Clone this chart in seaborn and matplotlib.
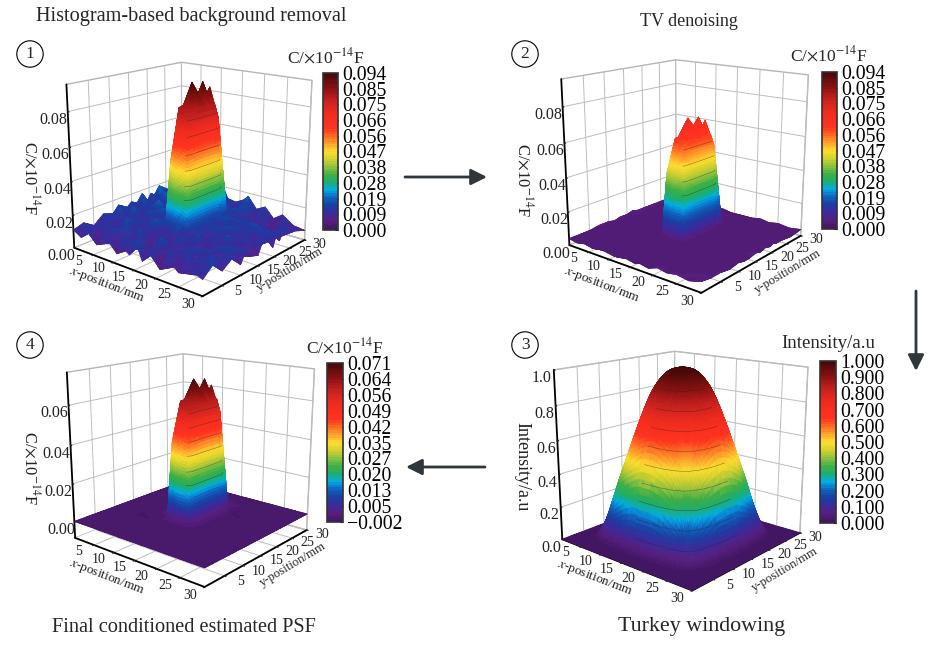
import numpy as np
import matplotlib
matplotlib.use('Agg')
import matplotlib.pyplot as plt
import matplotlib.tri as mtri
import seaborn as sns
from matplotlib.cm import ScalarMappable
from matplotlib.colors import ListedColormap, Normalize
from matplotlib.patches import FancyArrowPatch

sns.set_theme(style='white')
plt.rcParams['font.family'] = ['Liberation Serif', 'DejaVu Serif']
plt.rcParams['mathtext.fontset'] = 'stix'

W, H = 946, 648

# scan grids, mm. The peak panels are sampled closer around the steep walls
x_peak = [0, 2, 4, 6, 8.5, 11, 12, 14, 16, 17, 19, 21, 23, 25, 27.5, 30]
y_peak = [0, 2.5, 5, 7.5, 10, 11.5, 13, 15, 16.5, 18, 19.5, 20.5, 21.5, 23, 26.5, 30]
x_even = [0, 2, 4, 6, 8, 10, 12, 14, 16, 18, 20, 22, 24, 26, 28, 30]
y_even = [0, 2, 4, 6, 8, 10, 12, 14, 16, 18, 20, 22, 24, 26, 28, 30]
axis_ticks = [5, 10, 15, 20, 25, 30]

# colours of the bar, bottom to top
band_colors = ['#431663', '#57207f', '#3d2a9c', '#1a3fa2', '#1062bf', '#00aee6',
               '#1fae6e', '#3fb044', '#8fc23f', '#d8d22f', '#ffe030', '#ffa52e',
               '#ff6a22', '#ff3320', '#fb2f1f', '#ee2c1e', '#d82620', '#bb1e1c',
               '#8f1414', '#6e0e0e', '#4a0808']

# rows are x, columns are y
z_hist = [
    [.011, .013, .009, .014, .012, .016, .011, .015, .013, .018, .012, .016, .014, .019, .013, .017],
    [.008, .012, .007, .011, .016, .010, .014, .009, .017, .012, .015, .011, .018, .012, .016, .013],
    [.012, .006, .014, .009, .012, .018, .008, .013, .011, .016, .010, .019, .013, .015, .011, .017],
    [.007, .013, .010, .016, .006, .011, .015, .010, .019, .012, .021, .011, .016, .010, .018, .012],
    [.013, .008, .015, .007, .013, .009, .012, .017, .011, .015, .012, .018, .010, .017, .012, .015],
    [.006, .014, .009, .012, .017, .008, .014, .014, .020, .016, .018, .014, .016, .011, .014, .019],
    [.012, .007, .016, .008, .011, .015, .050, .070, .080, .080, .080, .080, .070, .017, .010, .013],
    [.008, .015, .006, .013, .009, .018, .0815, .083, .094, .083, .093, .085, .089, .011, .016, .012],
    [.014, .009, .012, .005, .017, .016, .079, .080, .080, .080, .080, .080, .072, .013, .009, .015],
    [.007, .012, .016, .010, .007, .015, .016, .016, .016, .016, .016, .016, .015, .015, .012, .018],
    [.012, .005, .009, .015, .012, .006, .013, .010, .015, .008, .016, .009, .014, .008, .016, .011],
    [.006, .014, .011, .006, .016, .010, .005, .015, .007, .014, .006, .015, .011, .013, .009, .014],
    [.013, .007, .015, .010, .005, .014, .011, .006, .016, .009, .013, .005, .015, .007, .014, .008],
    [.008, .012, .005, .013, .009, .007, .016, .012, .005, .014, .008, .016, .006, .013, .006, .012],
    [.012, .006, .014, .007, .015, .011, .005, .014, .010, .006, .015, .007, .012, .005, .013, .007],
    [.009, .014, .008, .012, .006, .013, .009, .006, .014, .011, .006, .013, .008, .014, .009, .006],
]
z_tv = [
    [.004, .004, .004, .005, .005, .004, .005, .005, .006, .005, .005, .005, .005, .005, .005, .005],
    [.003, .003, .004, .003, .003, .004, .004, .003, .004, .004, .004, .004, .004, .003, .004, .004],
    [.004, .003, .003, .003, .004, .003, .003, .004, .003, .003, .003, .004, .003, .004, .003, .003],
    [.003, .004, .003, .003, .003, .003, .004, .003, .004, .003, .004, .003, .003, .003, .003, .004],
    [.004, .003, .003, .004, .003, .003, .003, .003, .003, .004, .003, .004, .003, .003, .004, .003],
    [.003, .003, .004, .003, .003, .004, .004, .005, .005, .005, .005, .005, .003, .004, .003, .003],
    [.003, .004, .003, .003, .003, .004, .040, .054, .060, .060, .060, .060, .054, .004, .003, .004],
    [.004, .003, .003, .004, .003, .005, .0615, .062, .071, .062, .070, .063, .067, .005, .004, .003],
    [.003, .003, .004, .003, .003, .005, .059, .060, .060, .060, .060, .060, .054, .005, .003, .003],
    [.004, .004, .003, .003, .004, .004, .005, .005, .005, .005, .005, .005, .004, .003, .004, .003],
    [.003, .003, .003, .004, .003, .003, .003, .003, .004, .003, .003, .003, .003, .004, .003, .003],
    [.005, .003, .004, .003, .003, .003, .004, .003, .003, .003, .004, .003, .004, .003, .003, .004],
    [.004, .004, .003, .003, .004, .003, .003, .003, .004, .003, .003, .003, .003, .003, .004, .003],
    [.005, .003, .004, .003, .003, .004, .003, .004, .003, .003, .004, .003, .003, .004, .003, .004],
    [.004, .005, .003, .004, .003, .003, .004, .003, .003, .004, .003, .003, .004, .003, .003, .003],
    [.006, .005, .005, .004, .005, .004, .004, .005, .004, .005, .004, .005, .004, .004, .003, .004],
]
z_tukey = [
    [0, 0, 0, 0, 0, 0, 0, 0, 0, 0, 0, 0, 0, 0, 0, 0],
    [0, 0, 0, 0, .01, .01, .01, .01, .01, .01, .01, .01, 0, 0, 0, 0],
    [0, 0, .01, .05, .08, .10, .12, .12, .12, .12, .10, .08, .05, .01, 0, 0],
    [0, 0, .05, .18, .29, .36, .40, .42, .42, .40, .36, .29, .18, .05, 0, 0],
    [0, .01, .08, .29, .46, .58, .65, .68, .68, .65, .58, .46, .29, .08, .01, 0],
    [0, .01, .10, .36, .58, .72, .82, .85, .85, .82, .72, .58, .36, .10, .01, 0],
    [0, .01, .12, .40, .65, .82, .92, .96, .96, .92, .82, .65, .40, .12, .01, 0],
    [0, .01, .12, .42, .68, .85, .96, 1, 1, .96, .85, .68, .42, .12, .01, 0],
    [0, .01, .12, .42, .68, .85, .96, 1, 1, .96, .85, .68, .42, .12, .01, 0],
    [0, .01, .12, .40, .65, .82, .92, .96, .96, .92, .82, .65, .40, .12, .01, 0],
    [0, .01, .10, .36, .58, .72, .82, .85, .85, .82, .72, .58, .36, .10, .01, 0],
    [0, .01, .08, .29, .46, .58, .65, .68, .68, .65, .58, .46, .29, .08, .01, 0],
    [0, 0, .05, .18, .29, .36, .40, .42, .42, .40, .36, .29, .18, .05, 0, 0],
    [0, 0, .01, .05, .08, .10, .12, .12, .12, .12, .10, .08, .05, .01, 0, 0],
    [0, 0, 0, 0, .01, .01, .01, .01, .01, .01, .01, .01, 0, 0, 0, 0],
    [0, 0, 0, 0, 0, 0, 0, 0, 0, 0, 0, 0, 0, 0, 0, 0],
]
z_final = [
    [0, 0, 0, 0, 0, 0, 0, 0, 0, 0, 0, 0, 0, 0, 0, 0],
    [0, 0, 0, 0, 0, 0, 0, 0, 0, 0, 0, 0, 0, 0, 0, 0],
    [0, 0, 0, 0, 0, 0, 0, 0, 0, 0, 0, 0, 0, 0, 0, 0],
    [0, 0, 0, 0, -.001, -.001, 0, 0, 0, 0, 0, 0, 0, 0, 0, 0],
    [0, 0, 0, 0, -.001, 0, 0, 0, 0, 0, 0, 0, 0, 0, 0, 0],
    [0, 0, 0, 0, 0, 0, .001, .002, .002, .002, .002, .002, .001, 0, 0, 0],
    [0, 0, 0, 0, 0, .001, .040, .055, .060, .060, .060, .060, .054, .001, 0, 0],
    [0, 0, 0, 0, 0, .003, .0615, .062, .071, .062, .070, .063, .066, .003, 0, 0],
    [0, 0, 0, 0, 0, .003, .059, .060, .060, .060, .060, .060, .053, .003, 0, 0],
    [0, 0, 0, 0, 0, .001, .004, .004, .004, .004, .004, .004, .003, .001, 0, 0],
    [0, 0, 0, 0, 0, 0, 0, 0, 0, 0, 0, 0, -.001, -.001, 0, 0],
    [0, 0, 0, 0, 0, 0, 0, 0, 0, 0, 0, -.001, -.001, 0, 0, 0],
    [0, 0, 0, 0, 0, 0, 0, 0, 0, 0, 0, 0, 0, 0, 0, 0],
    [0, 0, 0, 0, 0, 0, 0, -.001, 0, 0, 0, 0, 0, 0, 0, 0],
    [0, 0, 0, 0, 0, 0, 0, 0, 0, 0, 0, 0, 0, 0, 0, 0],
    [0, 0, 0, 0, 0, 0, 0, 0, 0, 0, 0, 0, 0, 0, 0, 0],
]

ticks_cap = ['0.000', '0.009', '0.019', '0.028', '0.038', '0.047', '0.056', '0.066', '0.075', '0.085', '0.094']
ticks_int = ['0.000', '0.100', '0.200', '0.300', '0.400', '0.500', '0.600', '0.700', '0.800', '0.900', '1.000']
ticks_fin = ['\u22120.002', '0.005', '0.013', '0.020', '0.027', '0.035', '0.042', '0.049', '0.056', '0.064', '0.071']

levels_cap = [.03, .038, .047, .056, .066, .075]
levels_fin = [.02, .027, .035, .042, .049, .056]
levels_int = [.1, .2, .3, .4, .5, .6, .7, .8, .9]

CAP = r'C/$\times$10$^{-14}$F'

# the bar of the reference is stepped, so the surface gets the same bands
cmap = ListedColormap(sns.blend_palette(band_colors, n_colors=64))
fig = plt.figure(figsize=(W / 100, H / 100), dpi=100, facecolor='white')


def rect(left, top, side):
    # square pixel box of the reference to figure fractions
    return [left / W, 1 - (top + side) / H, side / W, side / H]


def px(x, y):
    return x / W, 1 - y / H


def refine(X, Y, Z, triangles, smooth, subdiv):
    tri = mtri.Triangulation(X.ravel(), Y.ravel(), triangles=triangles)
    if smooth:
        interp = mtri.CubicTriInterpolator(tri, Z.ravel())
    else:
        interp = mtri.LinearTriInterpolator(tri, Z.ravel())
    return mtri.UniformTriRefiner(tri).refine_field(Z.ravel(), triinterpolator=interp, subdiv=subdiv)


def surface(ax, X, Y, Z, vrange, smooth):
    whole = mtri.Triangulation(X.ravel(), Y.ravel()).triangles
    if smooth:
        tri_f, z_f = refine(X, Y, Z, whole, True, 3)
    else:
        # the steep walls need many more facets than the floor
        xc = X.ravel()[whole].mean(axis=1)
        yc = Y.ravel()[whole].mean(axis=1)
        wall = ((xc > 16) & (xc < 17) & (yc > 11.5) & (yc < 23)) | ((xc > 12) & (xc < 17) & (yc > 11.5) & (yc < 13))
        tri_a, z_a = refine(X, Y, Z, whole[wall], False, 5)
        tri_b, z_b = refine(X, Y, Z, whole[~wall], False, 3)
        tri_f = mtri.Triangulation(np.r_[tri_a.x, tri_b.x], np.r_[tri_a.y, tri_b.y],
                                   triangles=np.r_[tri_a.triangles, tri_b.triangles + len(tri_a.x)])
        z_f = np.r_[z_a, z_b]
    surf = ax.plot_trisurf(tri_f, z_f, cmap=cmap, vmin=vrange[0], vmax=vrange[1], linewidth=0.45, antialiased=True)
    surf.set_edgecolor('face')


def panel(box, view, xs, ys, z, zlim, zticks, zfmt, vrange, levels, front, zpad=-2, smooth=False):
    ax = fig.add_axes(rect(*box), projection='3d', computed_zorder=False)
    ax.patch.set_alpha(0)
    ax.set_proj_type('persp', focal_length=view[2])
    ax.view_init(elev=view[0], azim=view[1])
    ax.set_box_aspect((1, 1, 1), zoom=1.0)

    X, Y = np.meshgrid(xs, ys, indexing='ij')
    Z = np.array(z, dtype=float)
    surface(ax, X, Y, Z, vrange, smooth)

    # faint level lines, only on the side that faces the viewer
    ax.contour(X[front[0]:, :front[1]], Y[front[0]:, :front[1]], Z[front[0]:, :front[1]],
               levels=levels, colors='#222222', linewidths=0.35, alpha=0.6)

    ax.set_xlim(0, 30)
    ax.set_ylim(0, 30)
    ax.set_zlim(*zlim)
    ax.set_xticks(axis_ticks)
    ax.set_yticks(axis_ticks)
    ax.set_zticks(zticks)
    ax.set_zticklabels([zfmt % t for t in zticks])

    for a in (ax.xaxis, ax.yaxis, ax.zaxis):
        a.set_pane_color((1, 1, 1, 1))
        a.pane.set_edgecolor('#b5b5b5')
        a.line.set_color('black')
        a.line.set_linewidth(1.3)
        a._axinfo['grid'].update(color='#bdbdbd', linewidth=0.7)
        a._axinfo['tick'].update(inward_factor=0.12, outward_factor=0.0)
        a._axinfo['tick']['linewidth'] = {True: 1.0, False: 0.6}
    ax.zaxis._axinfo['juggled'] = (1, 2, 0)
    ax.tick_params(axis='z', labelsize=11.5, pad=zpad, colors='#222222')
    ax.tick_params(axis='x', labelbottom=False, labeltop=False)
    ax.tick_params(axis='y', labelleft=False, labelright=False)
    ax.grid(True)

    # tick labels sit off the floor edges, as in the reference
    for t in axis_ticks:
        ax.text(t, -3.5, zlim[0], str(t), ha='center', va='center', rotation=-35,
                rotation_mode='anchor', fontsize=10, color='#222222')
        ax.text(33.2, t, zlim[0], str(t), ha='center', va='center', rotation=-35,
                rotation_mode='anchor', fontsize=10, color='#222222')
    return ax


def axis_titles(x_xy, y_xy, z_xy, z_title, z_size=12):
    fig.text(*px(*x_xy), '$x$-position/mm', ha='center', va='center', fontsize=9.5, rotation=-21, color='#222222')
    fig.text(*px(*y_xy), 'y-position/mm', ha='center', va='center', fontsize=9.2, rotation=31, color='#222222')
    fig.text(*px(*z_xy), z_title, ha='center', va='center', fontsize=z_size, rotation=270, color='#222222')


def bar(box, labels, title, title_xy, title_size=12.5):
    left, top, right, bottom = box
    cax = fig.add_axes([left / W, 1 - bottom / H, (right - left) / W, (bottom - top) / H])
    sm = ScalarMappable(norm=Normalize(0, 10), cmap=cmap)
    cb = fig.colorbar(sm, cax=cax, ticks=list(range(11)))
    cb.ax.set_yticklabels(labels)
    cb.ax.tick_params(labelsize=14.2, length=2.5, width=0.8, direction='in', pad=3, colors='black')
    cb.outline.set_edgecolor('#333333')
    cb.outline.set_linewidth(1.2)
    fig.text(*px(*title_xy), title, ha='center', va='center', fontsize=title_size)


def number(label, xy):
    fig.text(*px(*xy), label, ha='center', va='center', fontsize=12.5,
             bbox=dict(boxstyle='circle,pad=0.3', fc='white', ec='black', lw=0.8))


def arrow(start, end):
    fig.add_artist(FancyArrowPatch(px(*start), px(*end), transform=fig.transFigure,
                                   arrowstyle='-|>', mutation_scale=24, lw=2, color='#30373c',
                                   shrinkA=0, shrinkB=0))


z_ticks_cap = [0.00, 0.02, 0.04, 0.06, 0.08]
panel((45.2, 27.7, 283.6), (17, -50, 0.50), x_peak, y_peak, z_hist, (0, 0.095), z_ticks_cap, '%.2f',
      (0, 0.094), levels_cap, (8, 16))
panel((540.3, 22.4, 285.6), (16, -51, 0.46), x_peak, y_peak, z_tv, (0, 0.095), z_ticks_cap, '%.2f',
      (0, 0.094), levels_cap, (8, 16))
panel((45.9, 316.1, 285.5), (16, -50, 0.45), x_peak, y_peak, z_final, (-0.009, 0.076), [0.00, 0.02, 0.04, 0.06], '%.2f',
      (-0.002, 0.071), levels_fin, (8, 16))
panel((532.1, 312.7, 292.7), (16, -49, 0.45), x_even, y_even, z_tukey, (0, 1.0), [0.0, 0.2, 0.4, 0.6, 0.8, 1.0], '%.1f',
      (0, 1.0), levels_int, (7, 9), zpad=-3, smooth=True)

axis_titles((107, 285), (290, 270), (31, 178), CAP)
axis_titles((602, 285), (788, 272), (524, 180), CAP)
axis_titles((107, 577), (293, 565), (31, 468), CAP)
axis_titles((595, 578), (785, 570), (522, 467), 'Intensity/a.u', z_size=13)

bar((323, 73, 338, 230), ticks_cap, CAP, (326, 57))
bar((822, 72, 837, 229), ticks_cap, CAP, (829, 55))
bar((327, 363, 343, 522), ticks_fin, CAP, (345, 347))
bar((820, 361, 836, 523), ticks_int, 'Intensity/a.u', (828, 344), title_size=13.6)

number('1', (30, 54))
number('2', (525, 54))
number('3', (525, 345))
number('4', (30, 345))

arrow((405, 177), (487, 177))
arrow((916, 291), (916, 371))
arrow((485, 467), (406, 467))

fig.text(*px(191, 17), 'Histogram-based background removal', ha='center', va='center', fontsize=14.6)
fig.text(*px(689, 21), 'TV denoising', ha='center', va='center', fontsize=13)
fig.text(*px(184, 627), 'Final conditioned estimated PSF', ha='center', va='center', fontsize=14.6)
fig.text(*px(702, 627), 'Turkey windowing', ha='center', va='center', fontsize=15.8)

fig.savefig('out.png', dpi=100)
